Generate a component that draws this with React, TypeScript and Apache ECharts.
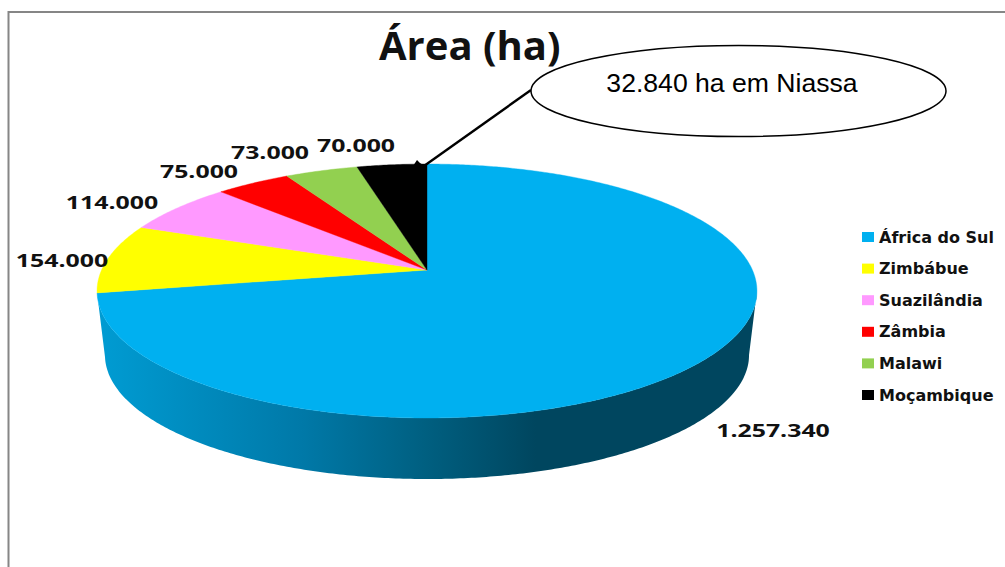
import React, { useEffect, useRef } from "react";
import * as echarts from "echarts";

const categories = ["África do Sul", "Zimbábue", "Suazilândia", "Zâmbia", "Malawi", "Moçambique"];
const areaHa = [1257340, 154000, 114000, 75000, 73000, 70000];
const sliceColors = ["#00B0F0", "#FFFF00", "#FF99FF", "#FF0000", "#92D050", "#000000"];
// Centre of each value label, in chart pixels.
const labelAnchors = [
  [773, 430],
  [62, 260],
  [112, 202],
  [199, 171],
  [270, 152],
  [356, 145],
];

const chartTitle = "Área (ha)";
const calloutText = "32.840 ha em Niassa";

// Perspective disc: the apex is where the slices meet, the rim is a projected circle.
const APEX_X = 427;
const APEX_Y = 270;
const TILT = 0.1654;
const SPREAD_X = 325.4;
const SPREAD_Y = 123.5;
const BASE_SCALE = 0.976;
const BASE_DROP = 64.6;

const total = areaHa.reduce((s, v) => s + v, 0);
const rim = (theta: number, base = false): number[] => {
  const u = Math.sin(theta);
  const v = Math.cos(theta);
  const w = 1 + TILT * v;
  const s = base ? BASE_SCALE : 1;
  return [
    APEX_X + (s * SPREAD_X * u) / w,
    APEX_Y + (base ? BASE_DROP : 0) - (s * SPREAD_Y * v) / w,
  ];
};
const arc = (from: number, to: number, base = false): number[][] => {
  const steps = Math.max(2, Math.ceil(Math.abs(to - from) / 0.01));
  const pts: number[][] = [];
  for (let i = 0; i <= steps; i++) pts.push(rim(from + ((to - from) * i) / steps, base));
  return pts;
};
const formatHa = (v: number) => String(v).replace(/\B(?=(\d{3})+(?!\d))/g, ".");

const wallFill = new echarts.graphic.LinearGradient(0, 0, 1, 0, [
  { offset: 0, color: "#009CD3" },
  { offset: 0.31, color: "#0079A8" },
  { offset: 0.5, color: "#005F80" },
  { offset: 0.665, color: "#00465F" },
  { offset: 1, color: "#00465F" },
]);

const renderSlice = (index: number) => (_params: any, api: any) => {
  const value = api.value(0);
  const before = areaHa.slice(0, index).reduce((s, v) => s + v, 0);
  const start = (before / total) * Math.PI * 2;
  const end = ((before + value) / total) * Math.PI * 2;
  const color = sliceColors[index];
  const children: any[] = [];
  if (index === 0) {
    // The side wall shows only along the front of the largest slice.
    const wallStart = Math.PI / 2 + Math.asin(TILT);
    const top = arc(wallStart, end);
    const bottom = arc(wallStart, end, true).reverse();
    children.push({
      type: "polygon",
      shape: { points: [...top, ...bottom] },
      style: { fill: wallFill },
    });
  }
  children.push({
    type: "polygon",
    shape: { points: [[APEX_X, APEX_Y], ...arc(start, end)] },
    style: { fill: color, stroke: color, lineWidth: 0.4 },
  });
  const [lx, ly] = labelAnchors[index];
  children.push({
    type: "text",
    x: lx,
    y: ly,
    scaleX: 1.38,
    style: {
      text: formatHa(value),
      fill: "#111111",
      font: "bold 18px 'Open Sans'",
      align: "center",
      verticalAlign: "middle",
    },
  });
  return { type: "group", children };
};

export default function App() {
  const ref = useRef<HTMLDivElement>(null);
  useEffect(() => {
    const chart = echarts.init(ref.current!, null, { renderer: "svg" });
    chart.setOption({
      animation: false,
      backgroundColor: "#FFFFFF",
      title: {
        text: chartTitle,
        left: 379,
        top: 24,
        padding: 0,
        textStyle: { fontFamily: "'Open Sans'", fontWeight: "bold", fontSize: 40, color: "#111111" },
      },
      legend: {
        orient: "vertical",
        left: 862,
        top: 228,
        padding: 0,
        itemWidth: 12,
        itemHeight: 10,
        itemGap: 13.6,
        itemStyle: { borderWidth: 0 },
        selectedMode: false,
        icon: "rect",
        data: categories,
        formatter: (name: string) => name,
        textStyle: { fontFamily: "'DejaVu Sans'", fontWeight: "bold", fontSize: 16, color: "#111111", padding: [0, 0, 0, 0], lineHeight: 18 },
      },
      series: categories.map((name, i) => ({
        type: "custom",
        name,
        coordinateSystem: "none",
        itemStyle: { color: sliceColors[i] },
        renderItem: renderSlice(i),
        data: [[areaHa[i]]],
        silent: true,
      })),
      graphic: [
        {
          type: "polyline",
          z: 10,
          shape: { points: [[8.5, 567], [8.5, 12], [1005, 12]] },
          style: { stroke: "#868686", lineWidth: 2, fill: "none" },
        },
        {
          type: "polygon",
          z: 11,
          shape: { points: [[417, 160], [413, 166], [425, 166], [420, 163]] },
          style: { fill: "#000000" },
        },
        {
          type: "line",
          z: 11,
          shape: { x1: 531, y1: 90, x2: 424, y2: 166 },
          style: { stroke: "#000000", lineWidth: 2.4 },
        },
        {
          type: "ellipse",
          z: 12,
          shape: { cx: 738.5, cy: 91, rx: 207.5, ry: 45.5 },
          style: { fill: "#FFFFFF", stroke: "#000000", lineWidth: 1.5 },
        },
        {
          type: "text",
          z: 13,
          x: 732,
          y: 83,
          style: {
            text: calloutText,
            fill: "#000000",
            font: "26.6px 'Liberation Sans'",
            align: "center",
            verticalAlign: "middle",
          },
        },
      ],
    });
    return () => chart.dispose();
  }, []);
  return <div ref={ref} style={{ position: "absolute", left: 0, top: 0, width: 1005, height: 567 }} />;
}
